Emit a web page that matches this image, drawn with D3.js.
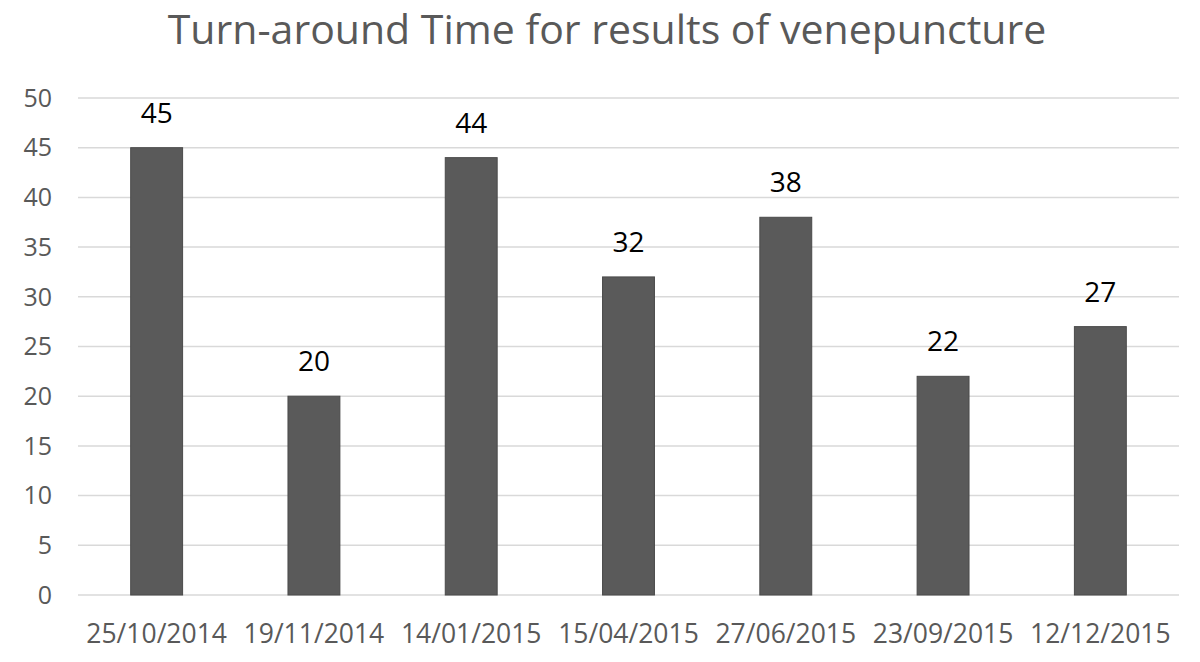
<!DOCTYPE html>
<html>
<head>
<meta charset="utf-8">
<script src="https://cdn.jsdelivr.net/npm/d3@7"></script>
<style>
  body { margin: 0; background: #fff; }
  text { font-family: "Open Sans", sans-serif; }
</style>
</head>
<body>
<div id="chart"></div>
<script>
const dates = ["25/10/2014", "19/11/2014", "14/01/2015", "15/04/2015", "27/06/2015", "23/09/2015", "12/12/2015"];
const days = [45, 20, 44, 32, 38, 22, 27];
const yTicks = [0, 5, 10, 15, 20, 25, 30, 35, 40, 45, 50];
const chartTitle = "Turn-around Time for results of venepuncture";

const width = 1200, height = 662;
const margin = {top: 98, right: 21, bottom: 67, left: 78};

const svg = d3.select("#chart")
    .append("svg")
    .attr("width", width)
    .attr("height", height);

const x = d3.scaleBand()
    .domain(dates)
    .range([margin.left, width - margin.right])
    .paddingInner(0.67)
    .paddingOuter(0.335);

const y = d3.scaleLinear()
    .domain([0, 50])
    .range([height - margin.bottom, margin.top]);

// gridlines
svg.append("g")
    .selectAll("line")
    .data(yTicks)
    .enter().append("line")
    .attr("x1", margin.left)
    .attr("x2", width - margin.right)
    .attr("y1", function(d) { return y(d); })
    .attr("y2", function(d) { return y(d); })
    .attr("stroke", "#d9d9d9")
    .attr("stroke-width", 1.5);

// y labels
svg.append("g")
    .selectAll("text")
    .data(yTicks)
    .enter().append("text")
    .attr("x", 52)
    .attr("y", function(d) { return y(d); })
    .attr("dy", "0.35em")
    .attr("text-anchor", "end")
    .attr("fill", "#595959")
    .style("font-size", "25px")
    .text(function(d) { return d; });

// bars
svg.append("g")
    .selectAll("rect")
    .data(days)
    .enter().append("rect")
    .attr("x", function(d, i) { return x(dates[i]); })
    .attr("y", function(d) { return y(d); })
    .attr("width", x.bandwidth())
    .attr("height", function(d) { return y(0) - y(d); })
    .attr("fill", "#5a5a5a")
    .attr("stroke", "#4a4a4a")
    .attr("stroke-width", 1);

// data labels
svg.append("g")
    .selectAll("text")
    .data(days)
    .enter().append("text")
    .attr("x", function(d, i) { return x(dates[i]) + x.bandwidth() / 2; })
    .attr("y", function(d) { return y(d) - 25; })
    .attr("text-anchor", "middle")
    .attr("fill", "#000")
    .style("font-size", "28px")
    .text(function(d) { return d; });

// x labels
svg.append("g")
    .selectAll("text")
    .data(dates)
    .enter().append("text")
    .attr("x", function(d) { return x(d) + x.bandwidth() / 2; })
    .attr("y", 643)
    .attr("text-anchor", "middle")
    .attr("fill", "#595959")
    .style("font-size", "26.5px")
    .text(function(d) { return d; });

svg.append("text")
    .attr("x", 607)
    .attr("y", 44)
    .attr("text-anchor", "middle")
    .attr("fill", "#595959")
    .style("font-size", "41px")
    .text(chartTitle);
</script>
</body>
</html>
